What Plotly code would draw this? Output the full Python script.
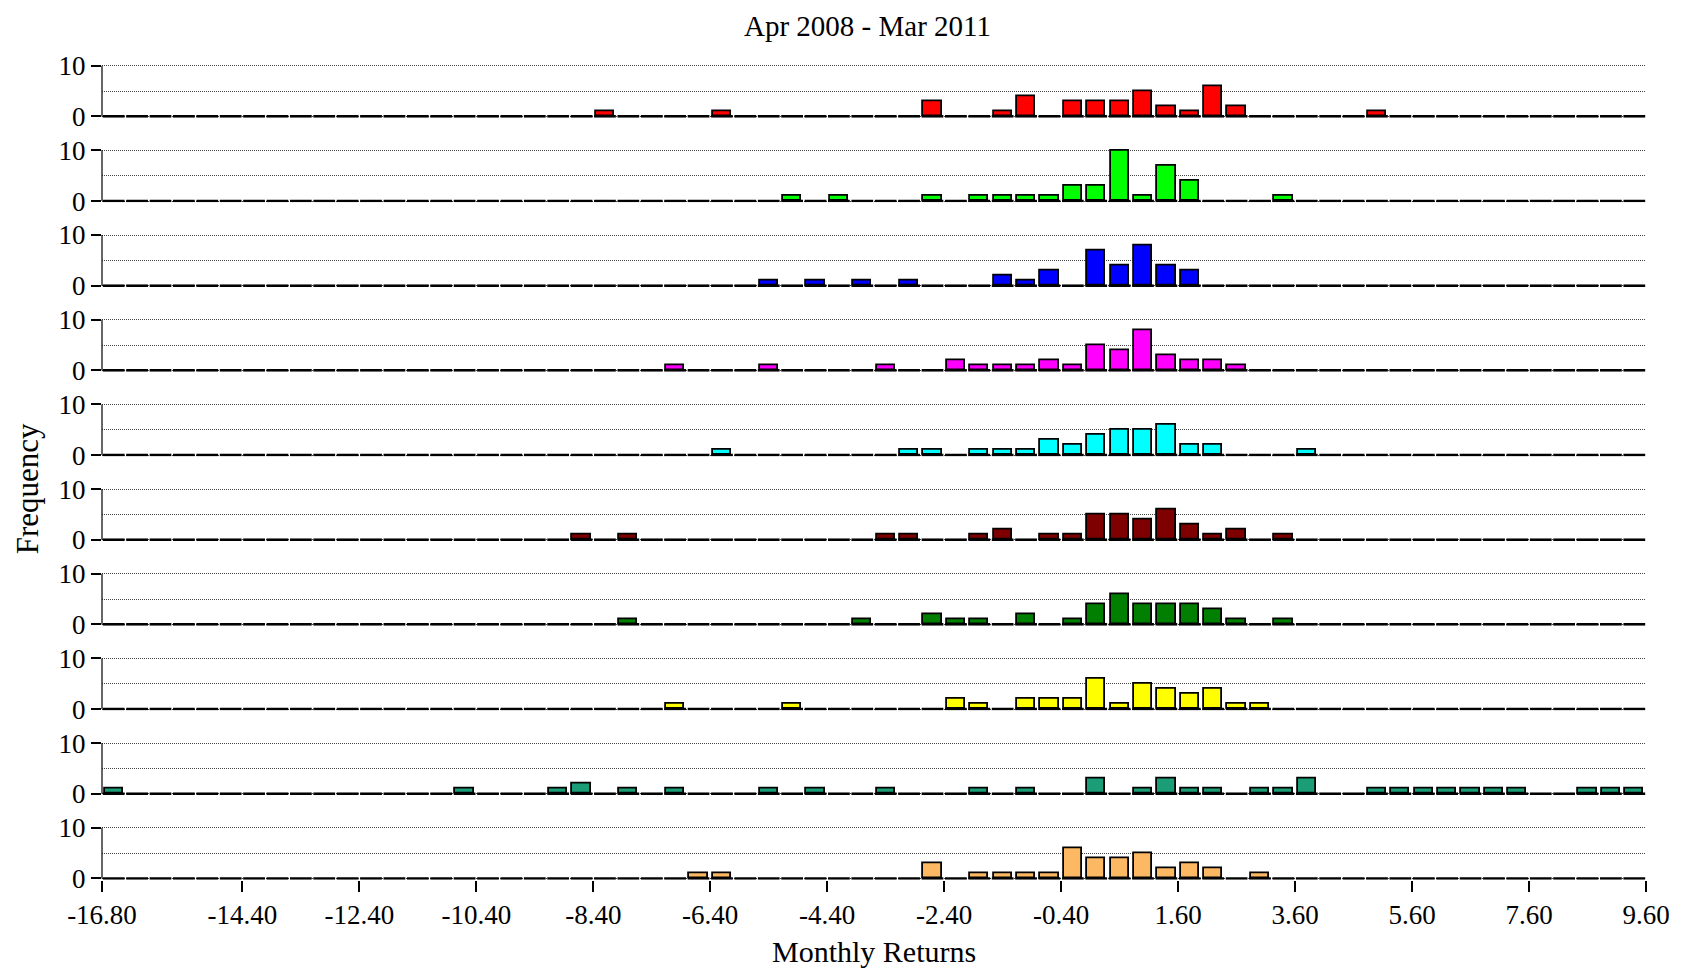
import plotly.graph_objects as go

# ---------------- data ----------------
bin_start = -16.8
bin_width = 0.4
n_bins = 66

title_text = "Apr 2008 - Mar 2011"
x_label = "Monthly Returns"
y_label = "Frequency"

tick_values = [-16.8, -14.4, -12.4, -10.4, -8.4, -6.4, -4.4, -2.4, -0.4, 1.6, 3.6, 5.6, 7.6, 9.6]
tick_labels = ["-16.80", "-14.40", "-12.40", "-10.40", "-8.40", "-6.40", "-4.40", "-2.40",
               "-0.40", "1.60", "3.60", "5.60", "7.60", "9.60"]

# bin lower edges (%) and counts per series
s1_edges = [-8.4, -6.4, -2.8, -1.6, -1.2, -0.4, 0.0, 0.4, 0.8, 1.2, 1.6, 2.0, 2.4, 4.8]
s1_counts = [1, 1, 3, 1, 4, 3, 3, 3, 5, 2, 1, 6, 2, 1]

s2_edges = [-5.2, -4.4, -2.8, -2.0, -1.6, -1.2, -0.8, -0.4, 0.0, 0.4, 0.8, 1.2, 1.6, 3.2]
s2_counts = [1, 1, 1, 1, 1, 1, 1, 3, 3, 10, 1, 7, 4, 1]

s3_edges = [-5.6, -4.8, -4.0, -3.2, -1.6, -1.2, -0.8, 0.0, 0.4, 0.8, 1.2, 1.6]
s3_counts = [1, 1, 1, 1, 2, 1, 3, 7, 4, 8, 4, 3]

s4_edges = [-7.2, -5.6, -3.6, -2.4, -2.0, -1.6, -1.2, -0.8, -0.4, 0.0, 0.4, 0.8, 1.2, 1.6, 2.0, 2.4]
s4_counts = [1, 1, 1, 2, 1, 1, 1, 2, 1, 5, 4, 8, 3, 2, 2, 1]

s5_edges = [-6.4, -3.2, -2.8, -2.0, -1.6, -1.2, -0.8, -0.4, 0.0, 0.4, 0.8, 1.2, 1.6, 2.0, 3.6]
s5_counts = [1, 1, 1, 1, 1, 1, 3, 2, 4, 5, 5, 6, 2, 2, 1]

s6_edges = [-8.8, -8.0, -3.6, -3.2, -2.0, -1.6, -0.8, -0.4, 0.0, 0.4, 0.8, 1.2, 1.6, 2.0, 2.4, 3.2]
s6_counts = [1, 1, 1, 1, 1, 2, 1, 1, 5, 5, 4, 6, 3, 1, 2, 1]

s7_edges = [-8.0, -4.0, -2.8, -2.4, -2.0, -1.2, -0.4, 0.0, 0.4, 0.8, 1.2, 1.6, 2.0, 2.4, 3.2]
s7_counts = [1, 1, 2, 1, 1, 2, 1, 4, 6, 4, 4, 4, 3, 1, 1]

s8_edges = [-7.2, -5.2, -2.4, -2.0, -1.2, -0.8, -0.4, 0.0, 0.4, 0.8, 1.2, 1.6, 2.0, 2.4, 2.8]
s8_counts = [1, 1, 2, 1, 2, 2, 2, 6, 1, 5, 4, 3, 4, 1, 1]

s9_edges = [-16.8, -10.8, -9.2, -8.8, -8.0, -7.2, -5.6, -4.8, -3.6, -2.0, -1.2, 0.0, 0.8, 1.2,
            1.6, 2.0, 2.8, 3.2, 3.6, 4.8, 5.2, 5.6, 6.0, 6.4, 6.8, 7.2, 8.4, 8.8, 9.2]
s9_counts = [1, 1, 1, 2, 1, 1, 1, 1, 1, 1, 1, 3, 1, 3,
             1, 1, 1, 1, 3, 1, 1, 1, 1, 1, 1, 1, 1, 1, 1]

s10_edges = [-6.8, -6.4, -2.8, -2.0, -1.6, -1.2, -0.8, -0.4, 0.0, 0.4, 0.8, 1.2, 1.6, 2.0, 2.8]
s10_counts = [1, 1, 3, 1, 1, 1, 1, 6, 4, 4, 5, 2, 3, 2, 1]

series_edges = [s1_edges, s2_edges, s3_edges, s4_edges, s5_edges,
                s6_edges, s7_edges, s8_edges, s9_edges, s10_edges]
series_counts = [s1_counts, s2_counts, s3_counts, s4_counts, s5_counts,
                 s6_counts, s7_counts, s8_counts, s9_counts, s10_counts]
series_colors = ["#FF0000", "#00FF00", "#0000FF", "#FF00FF", "#00FFFF",
                 "#7F0000", "#007F00", "#FFFF00", "#1B9E77", "#FDB863"]

# ---------------- figure ----------------
OFF = 8  # page body margin offset
W, H = 1705 - 2 * OFF, 979 - 2 * OFF
ML = 101.8 - OFF
MR = W - (1646.5 - OFF)
FONT = "Liberation Serif, Times New Roman, serif"


def fy(page_y):
    """page pixel row -> paper fraction"""
    return 1 - (page_y - OFF) / H


def fx(page_x):
    """page pixel column -> paper fraction"""
    return (page_x - OFF - ML) / (W - ML - MR)


# panel top (value 10) pixel rows, from top of page
panel_top_px = [65.7 + 84.67 * i for i in range(10)]
panel_h_px = 50.7
y_lo = -0.25  # small room below 0 so the baseline is not clipped
y_hi = 10.3   # small room above 10 so the top grid line is drawn

fig = go.Figure()
layout_axes = {}

all_edges = [bin_start + bin_width * i for i in range(n_bins)]
gap = 0.014

for i in range(10):
    n = i + 1
    xa = "x" if n == 1 else f"x{n}"
    ya = "y" if n == 1 else f"y{n}"

    # baseline: one flat dash per bin (empty bins drawn as zero-height outlines)
    bx, by = [], []
    for e in all_edges:
        bx += [e + gap, e + bin_width - gap, None]
        by += [0, 0, None]
    fig.add_trace(go.Scatter(x=bx, y=by, mode="lines", xaxis=xa, yaxis=ya,
                             line=dict(color="black", width=2.6),
                             hoverinfo="skip", showlegend=False))

    centers = [e + bin_width / 2 for e in series_edges[i]]
    fig.add_trace(go.Bar(x=centers, y=series_counts[i], width=bin_width * 0.78,
                         xaxis=xa, yaxis=ya,
                         marker=dict(color=series_colors[i],
                                     line=dict(color="black", width=1.8)),
                         showlegend=False))

    top_px = panel_top_px[i]
    unit = panel_h_px / 10.0
    zero_px = top_px + panel_h_px
    lo_px = zero_px - unit * y_lo
    hi_px = top_px - unit * (y_hi - 10)
    dom = [fy(lo_px), fy(hi_px)]

    is_bottom = (i == 9)
    xkey = "xaxis" if n == 1 else f"xaxis{n}"
    ykey = "yaxis" if n == 1 else f"yaxis{n}"
    layout_axes[xkey] = dict(
        domain=[0, 1], anchor=ya, range=[bin_start, bin_start + bin_width * n_bins],
        showgrid=False, zeroline=False, showline=False, automargin=False,
        tickmode="array", tickvals=tick_values, ticktext=tick_labels,
        showticklabels=is_bottom, ticks="outside" if is_bottom else "",
        ticklen=11, tickwidth=1.5, tickcolor="black",
        tickfont=dict(family=FONT, size=27, color="black"),
        fixedrange=True,
    )
    if n > 1:
        layout_axes[xkey]["matches"] = "x"
    layout_axes[ykey] = dict(
        domain=dom, anchor=xa, range=[y_lo, y_hi],
        tickmode="array", tickvals=[0, 10], ticktext=["0", "10"],
        ticks="outside", ticklen=10, tickwidth=1.5, tickcolor="black",
        tickfont=dict(family=FONT, size=27, color="black"),
        showline=False, zeroline=False, automargin=False,
        showgrid=True, gridcolor="#444444", gridwidth=1, griddash="1px,1px",
        minor=dict(tickvals=[5], showgrid=True, gridcolor="#444444",
                   gridwidth=1, griddash="1px,1px", ticks=""),
        fixedrange=True,
    )

# y-axis vertical lines (0 to 10) in axis coordinates
shapes = []
for i in range(10):
    n = i + 1
    xa = "x" if n == 1 else f"x{n}"
    ya = "y" if n == 1 else f"y{n}"
    shapes.append(dict(type="line", xref=f"{xa} domain", yref=ya,
                       x0=0, x1=0, y0=0, y1=10,
                       line=dict(color="black", width=1.2)))

fig.update_layout(
    width=W, height=H,
    margin=dict(l=ML, r=MR, t=0, b=0, pad=0),
    paper_bgcolor="white", plot_bgcolor="rgba(0,0,0,0)",
    template=None,
    bargap=0,
    font=dict(family=FONT, color="black"),
    shapes=shapes,
    annotations=[
        dict(text=title_text, xref="paper", yref="paper",
             x=fx(868), y=1, xanchor="center", yanchor="top",
             showarrow=False, font=dict(family=FONT, size=29, color="black")),
        dict(text=x_label, xref="paper", yref="paper",
             x=0.5, y=1 / H, xanchor="center", yanchor="bottom",
             showarrow=False, font=dict(family=FONT, size=30, color="black")),
        dict(text=y_label, xref="paper", yref="paper", textangle=-90,
             x=fx(27), y=fy(489),
             xanchor="center", yanchor="middle",
             showarrow=False, font=dict(family=FONT, size=31, color="black")),
    ],
    **layout_axes,
)

fig.write_html("out.html")
